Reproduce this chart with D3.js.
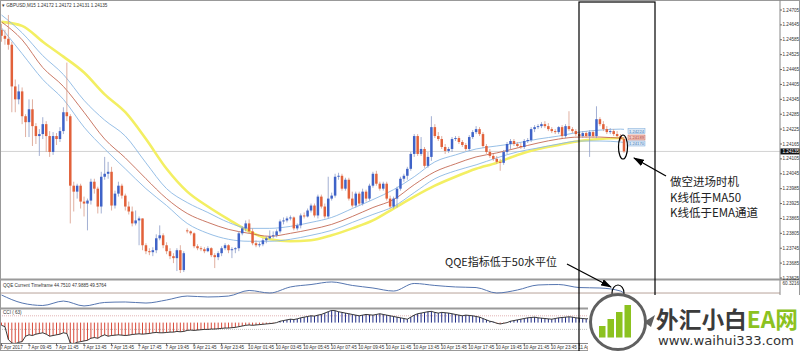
<!DOCTYPE html>
<html lang="zh">
<head>
<meta charset="UTF-8">
<title>GBPUSD,M15</title>
<style>
  body { margin: 0; background: #fff; }
  svg { display: block; font-family: "Liberation Sans", Arial, sans-serif; }
  .small { font-size: 4.6px; fill: #333; }
  .note { font-family: "Noto Sans CJK SC", sans-serif; fill: #222; }
</style>
</head>
<body>
<svg id="chart" width="800" height="351"></svg>
<script src="https://d3js.org/d3.v7.min.js"></script>
<script>
// ---- candles (GBPUSD M15) ----
const open = [1.24625,1.24601,1.24589,1.24565,1.24397,1.24345,1.24377,1.24277,1.24253,1.24305,
  1.24237,1.24197,1.24205,1.24245,1.24197,1.24133,1.24197,1.24185,1.24217,1.24293,
  1.24277,1.23997,1.23973,1.23997,1.23933,1.23925,1.23937,1.24013,1.23985,1.23913,
  1.24033,1.24045,1.24053,1.23917,1.23965,1.23997,1.23957,1.23913,1.23893,1.23845,
  1.23857,1.23865,1.23757,1.23733,1.23729,1.23737,1.23785,1.23797,1.23757,1.23733,
  1.23713,1.23705,1.23737,1.23657,1.23817,1.23813,1.23805,1.23753,1.23745,1.23741,
  1.23733,1.23745,1.23717,1.23709,1.23725,1.23745,1.23757,1.23737,1.23741,1.23745,
  1.23805,1.23825,1.23845,1.23813,1.23765,1.23757,1.23761,1.23777,1.23785,1.23793,
  1.23797,1.23813,1.23853,1.23857,1.23865,1.23869,1.23825,1.23837,1.23877,1.23873,
  1.23897,1.23917,1.23877,1.23953,1.23913,1.23873,1.23945,1.23957,1.24033,1.24037,
  1.23985,1.24021,1.23945,1.23917,1.23965,1.23925,1.23973,1.23945,1.23997,1.24045,
  1.24005,1.23985,1.24005,1.23945,1.23913,1.23945,1.23985,1.24025,1.24037,1.24065,
  1.24125,1.24197,1.24125,1.24145,1.24077,1.24113,1.24233,1.24197,1.24185,1.24153,
  1.24137,1.24145,1.24185,1.24189,1.24173,1.24161,1.24145,1.24193,1.24213,1.24225,
  1.24205,1.24157,1.24133,1.24117,1.24105,1.24093,1.24089,1.24133,1.24165,1.24177,
  1.24165,1.24157,1.24153,1.24177,1.24181,1.24225,1.24233,1.24237,1.24245,1.24237,
  1.24225,1.24217,1.24213,1.24233,1.24197,1.24237,1.24225,1.24217,1.24205,1.24197,
  1.24209,1.24197,1.24213,1.24197,1.24265,1.24245,1.24225,1.24213,1.24217,1.24205,
  1.24197,1.24185];
const close = [1.24601,1.24589,1.24565,1.24397,1.24345,1.24377,1.24277,1.24253,1.24305,1.24237,
  1.24197,1.24205,1.24245,1.24197,1.24133,1.24197,1.24185,1.24217,1.24293,1.24277,
  1.23997,1.23973,1.23997,1.23933,1.23925,1.23937,1.24013,1.23985,1.23913,1.24033,
  1.24045,1.24053,1.23917,1.23965,1.23997,1.23957,1.23913,1.23893,1.23845,1.23857,
  1.23865,1.23757,1.23733,1.23729,1.23737,1.23785,1.23797,1.23757,1.23733,1.23713,
  1.23705,1.23737,1.23657,1.23725,1.23813,1.23805,1.23753,1.23745,1.23741,1.23733,
  1.23745,1.23717,1.23709,1.23725,1.23745,1.23757,1.23737,1.23741,1.23745,1.23805,
  1.23825,1.23845,1.23813,1.23765,1.23757,1.23761,1.23777,1.23785,1.23793,1.23797,
  1.23813,1.23853,1.23857,1.23865,1.23869,1.23825,1.23837,1.23877,1.23873,1.23897,
  1.23917,1.23877,1.23953,1.23913,1.23873,1.23945,1.23957,1.24033,1.24037,1.23985,
  1.24021,1.23945,1.23917,1.23965,1.23925,1.23973,1.23945,1.23997,1.24045,1.24005,
  1.23985,1.24005,1.23945,1.23913,1.23945,1.23985,1.24025,1.24037,1.24065,1.24125,
  1.24197,1.24125,1.24145,1.24077,1.24113,1.24233,1.24197,1.24185,1.24153,1.24137,
  1.24145,1.24185,1.24189,1.24173,1.24161,1.24145,1.24193,1.24213,1.24225,1.24205,
  1.24157,1.24133,1.24117,1.24105,1.24093,1.24089,1.24133,1.24165,1.24177,1.24165,
  1.24157,1.24153,1.24177,1.24181,1.24225,1.24233,1.24237,1.24245,1.24237,1.24225,
  1.24217,1.24213,1.24233,1.24197,1.24237,1.24225,1.24217,1.24205,1.24197,1.24209,
  1.24197,1.24213,1.24197,1.24265,1.24245,1.24225,1.24213,1.24217,1.24205,1.24197,
  1.24185,1.24135];
const high = [1.24649,1.24625,1.24685,1.24577,1.24425,1.24405,1.24393,1.24285,1.24345,1.24345,
  1.24249,1.24225,1.24273,1.24257,1.24217,1.24213,1.24209,1.24233,1.24313,1.24493,
  1.24285,1.24013,1.24005,1.24005,1.23953,1.23945,1.24025,1.24025,1.23993,1.24053,
  1.24113,1.24093,1.24073,1.23977,1.24013,1.24005,1.23965,1.23933,1.23913,1.23897,
  1.23873,1.23865,1.23765,1.23745,1.23749,1.23801,1.23837,1.23805,1.23769,1.23745,
  1.23725,1.23745,1.23757,1.23733,1.23825,1.23817,1.23809,1.23761,1.23753,1.23749,
  1.23753,1.23749,1.23725,1.23733,1.23753,1.23765,1.23761,1.23749,1.23749,1.23813,
  1.23833,1.23857,1.23861,1.23825,1.23777,1.23769,1.23785,1.23793,1.23817,1.23813,
  1.23821,1.23861,1.23869,1.23873,1.23877,1.23873,1.23845,1.23885,1.23889,1.23905,
  1.23925,1.23925,1.23961,1.23961,1.23925,1.24033,1.23969,1.24045,1.24049,1.24045,
  1.24029,1.24029,1.23973,1.23973,1.23973,1.23985,1.23981,1.24005,1.24053,1.24057,
  1.24013,1.24013,1.24013,1.23957,1.23953,1.23993,1.24033,1.24045,1.24073,1.24133,
  1.24205,1.24205,1.24193,1.24153,1.24133,1.24277,1.24245,1.24213,1.24197,1.24165,
  1.24153,1.24193,1.24197,1.24197,1.24181,1.24169,1.24201,1.24221,1.24237,1.24233,
  1.24213,1.24165,1.24145,1.24125,1.24117,1.24105,1.24141,1.24173,1.24185,1.24185,
  1.24173,1.24169,1.24185,1.24189,1.24233,1.24241,1.24245,1.24253,1.24257,1.24249,
  1.24233,1.24225,1.24237,1.24241,1.24245,1.24297,1.24233,1.24225,1.24213,1.24217,
  1.24217,1.24221,1.24221,1.24317,1.24273,1.24257,1.24237,1.24229,1.24225,1.24217,
  1.24205,1.24193];
const low = [1.24577,1.24565,1.24545,1.24293,1.24293,1.24325,1.24245,1.24193,1.24193,1.24157,
  1.24165,1.24117,1.24185,1.24133,1.24113,1.24121,1.24161,1.24173,1.24205,1.24257,
  1.23845,1.23893,1.23945,1.23905,1.23873,1.23817,1.23921,1.23965,1.23885,1.23885,
  1.24021,1.24025,1.23897,1.23905,1.23953,1.23945,1.23897,1.23881,1.23833,1.23837,
  1.23757,1.23737,1.23721,1.23717,1.23713,1.23725,1.23777,1.23745,1.23721,1.23701,
  1.23685,1.23653,1.23645,1.23649,1.23805,1.23797,1.23745,1.23737,1.23733,1.23725,
  1.23729,1.23709,1.23665,1.23697,1.23713,1.23737,1.23725,1.23705,1.23725,1.23733,
  1.23797,1.23813,1.23805,1.23757,1.23749,1.23749,1.23753,1.23765,1.23781,1.23785,
  1.23789,1.23805,1.23841,1.23849,1.23857,1.23817,1.23817,1.23825,1.23865,1.23869,
  1.23889,1.23869,1.23865,1.23905,1.23865,1.23865,1.23937,1.23949,1.24021,1.23977,
  1.23977,1.23937,1.23909,1.23909,1.23917,1.23917,1.23933,1.23937,1.23989,1.23997,
  1.23977,1.23977,1.23937,1.23905,1.23905,1.23909,1.23977,1.24013,1.24021,1.24057,
  1.24113,1.24117,1.24117,1.24069,1.24069,1.24097,1.24189,1.24177,1.24145,1.24125,
  1.24129,1.24133,1.24177,1.24165,1.24153,1.24137,1.24137,1.24185,1.24205,1.24197,
  1.24149,1.24125,1.24109,1.24097,1.24085,1.24057,1.24081,1.24125,1.24145,1.24157,
  1.24149,1.24145,1.24145,1.24169,1.24173,1.24213,1.24225,1.24229,1.24229,1.24217,
  1.24209,1.24205,1.24205,1.24189,1.24189,1.24217,1.24209,1.24197,1.24189,1.24189,
  1.24189,1.24113,1.24189,1.24189,1.24237,1.24217,1.24205,1.24205,1.24197,1.24189,
  1.24177,1.24129];

// ---- moving averages, read every 6 bars ----
const maIdx = [0,6,12,18,24,30,36,42,48,54,60,66,72,78,84,90,96,102,108,114,120,126,132,138,144,150,156,162,168,174,180,181];
const ma50 = [1.24657,1.24641,1.24577,1.24517,1.24453,1.24365,1.24293,1.24185,1.24065,1.23973,1.23913,1.23861,1.23813,1.23781,1.23773,1.23777,
  1.23797,1.23825,1.23857,1.23905,1.23953,1.23997,1.24033,1.24065,1.24089,1.24121,1.24145,1.24161,1.24177,1.24185,1.24189,1.24185];
const emaHigh = [1.24685,1.24613,1.24521,1.24445,1.24341,1.24261,1.24197,1.24089,1.23985,1.23929,1.23889,1.23849,1.23825,1.23825,1.23833,1.23849,
  1.23869,1.23905,1.23941,1.23981,1.24033,1.24093,1.24121,1.24145,1.24157,1.24169,1.24185,1.24197,1.24213,1.24221,1.24225,1.24224];
const emaMid = [1.24657,1.24585,1.24473,1.24397,1.24293,1.24185,1.24109,1.24025,1.23945,1.23885,1.23849,1.23821,1.23805,1.23793,1.23805,1.23821,
  1.23841,1.23873,1.23909,1.23941,1.24001,1.24053,1.24085,1.24113,1.24129,1.24149,1.24169,1.24185,1.24193,1.24193,1.24189,1.24189];
const emaLow = [1.24633,1.24529,1.24425,1.24345,1.24233,1.24145,1.24065,1.23985,1.23917,1.23845,1.23805,1.23781,1.23773,1.23773,1.23781,1.23797,
  1.23817,1.23849,1.23881,1.23913,1.23969,1.24025,1.24057,1.24081,1.24109,1.24133,1.24149,1.24165,1.24177,1.24177,1.24173,1.24170];

// ---- QQE (same sample bars) ----
const qqe = [48.3,41.4,39.3,43.1,38.9,41.9,42.3,41.4,44.0,47.4,46.6,47.4,52.2,50.0,55.2,57.3,
  59.5,56.5,54.3,51.7,58.2,56.5,55.2,54.7,50.0,52.6,56.9,57.3,54.7,54.3,51.7,49.6];

// ---- CCI(63), one value per bar ----
const cci = [-40,-60,-250,-300,-310,-290,-280,
  -200,-180,-190,-170,-160,-150,-170,-200,-190,-180,-170,-150,
  -160,-300,-310,-290,-280,-270,-260,-230,-220,-230,-200,-180,
  -200,-190,-185,-180,-185,-190,-185,-175,-170,-165,-170,-165,-160,-150,-145,-150,-150,-145,-140,-140,-130,-135,
  -130,-115,-110,-115,-110,-105,-100,-100,-95,-95,-90,-85,-80,-80,-75,-70,-60,-50,
  -40,-35,-40,-35,-30,-25,-20,-15,-10,0,
  20,30,40,50,45,55,70,80,90,100,95,110,120,140,160,180,
  175,160,150,140,130,120,110,100,110,120,115,110,120,130,120,110,100,90,80,70,60,50,
  80,110,130,140,150,160,165,150,140,150,145,140,
  130,120,110,100,110,105,100,90,80,60,40,20,10,-10,-20,
  -10,0,20,30,40,50,60,70,75,80,70,65,60,55,50,
  60,70,75,80,85,80,70,65,60,55,60,65,70,80,75,65,55,45,35,25,10];

// ---- axis labels ----
const priceTicks = [1.24705,1.24645,1.24585,1.24525,1.24465,1.24405,1.24345,1.24285,1.24225,1.24165,
  1.24105,1.24045,1.23985,1.23925,1.23865,1.23805,1.23745,1.23685,1.23625];
const timeIdx = [0,8,16,24,32,40,48,56,64,72,80,88,96,104,112,120,128,136,144,152,160,168];
const timeLabels = ["7 Apr 2017","7 Apr 09:45","7 Apr 11:45","7 Apr 13:45","7 Apr 15:45","7 Apr 17:45",
  "7 Apr 19:45","9 Apr 21:45","9 Apr 23:45","10 Apr 01:45","10 Apr 03:45","10 Apr 05:45","10 Apr 07:45",
  "10 Apr 09:45","10 Apr 11:45","10 Apr 13:45","10 Apr 15:45","10 Apr 17:45","10 Apr 19:45",
  "10 Apr 21:45","10 Apr 23:45","11 Apr 01:45"];
const lastPrice = 1.24135;

const svg = d3.select("#chart");
const upCol = "#3f63c8", dnCol = "#e2613a";

const x = d3.scaleLinear().domain([0, close.length - 1]).range([1.5, 624]);
const y = d3.scaleLinear().domain([1.23625, 1.24705]).range([278, 10]);
const yQ = d3.scaleLinear().domain([38, 60.3216]).range([307, 281]);
const yC = d3.scaleLinear().domain([-300, 200]).range([343, 309]);

const defs = svg.append("defs");
defs.append("clipPath").attr("id", "cMain").append("rect").attr("x", 1).attr("y", 2).attr("width", 779).attr("height", 277);
defs.append("clipPath").attr("id", "cQ").append("rect").attr("x", 1).attr("y", 281).attr("width", 779).attr("height", 26);
defs.append("clipPath").attr("id", "cC").append("rect").attr("x", 1).attr("y", 310).attr("width", 779).attr("height", 33);
defs.append("marker").attr("id", "ah").attr("viewBox", "0 0 11 7").attr("refX", 10).attr("refY", 3.5)
  .attr("markerUnits", "userSpaceOnUse").attr("markerWidth", 11).attr("markerHeight", 7).attr("orient", "auto")
  .append("path").attr("d", "M0,0 L11,3.5 L0,7 z").attr("fill", "#000");

// frame
svg.append("rect").attr("x", 0.5).attr("y", 0.5).attr("width", 799).attr("height", 350).attr("fill", "#fff").attr("stroke", "#999");

const main = svg.append("g").attr("clip-path", "url(#cMain)");

// last price line
main.append("line").attr("x1", 0).attr("x2", 780).attr("y1", y(lastPrice)).attr("y2", y(lastPrice))
  .attr("stroke", "#c8c8c8").attr("stroke-width", 0.8);

const maLine = d3.line().x((d, k) => x(maIdx[k])).y(d => y(d)).curve(d3.curveMonotoneX);
main.append("path").attr("d", maLine(ma50)).attr("fill", "none").attr("stroke", "#f3ef63").attr("stroke-width", 2.6);
main.append("path").attr("d", maLine(emaHigh)).attr("fill", "none").attr("stroke", "#8bb8e3").attr("stroke-width", 0.9);
main.append("path").attr("d", maLine(emaLow)).attr("fill", "none").attr("stroke", "#8bb8e3").attr("stroke-width", 0.9);
main.append("path").attr("d", maLine(emaMid)).attr("fill", "none").attr("stroke", "#c46a55").attr("stroke-width", 0.9);

const bars = close.map((c, i) => ({ i, o: open[i], h: high[i], l: low[i], c }));
main.selectAll("line.wick").data(bars).join("line").attr("class", "wick")
  .attr("x1", d => x(d.i)).attr("x2", d => x(d.i))
  .attr("y1", d => y(d.h)).attr("y2", d => y(d.l))
  .attr("stroke", d => d.c >= d.o ? "#8c9cc8" : "#d89a88").attr("stroke-width", 0.8);
main.selectAll("rect.body").data(bars).join("rect").attr("class", "body")
  .attr("x", d => x(d.i) - 1.25).attr("width", 2.5)
  .attr("y", d => y(Math.max(d.o, d.c)))
  .attr("height", d => Math.max(0.9, Math.abs(y(d.o) - y(d.c))))
  .attr("fill", d => d.c >= d.o ? upCol : dnCol);

// price tags of the EMA channel
const tags = [
  { v: emaHigh[emaHigh.length - 1], fill: "#dbe9f7", stroke: "#7aa8d8", txt: "#4a78b0" },
  { v: emaMid[emaMid.length - 1], fill: "#f3c9c0", stroke: "#c65a48", txt: "#b04030" },
  { v: emaLow[emaLow.length - 1], fill: "#dbe9f7", stroke: "#7aa8d8", txt: "#4a78b0" }
];
const tagY = [131, 137.5, 143.5];
tags.forEach((t, k) => {
  main.append("rect").attr("x", 628).attr("y", tagY[k] - 2.5).attr("width", 17).attr("height", 5)
    .attr("fill", t.fill).attr("stroke", t.stroke).attr("stroke-width", 0.5);
  main.append("text").attr("x", 636.5).attr("y", tagY[k] + 1.5).attr("text-anchor", "middle")
    .attr("font-size", 4.2).attr("fill", t.txt).text(d3.format(".5f")(t.v));
});

// panes separators and borders
svg.append("line").attr("x1", 780).attr("x2", 780).attr("y1", 0).attr("y2", 343).attr("stroke", "#888");
[279.5, 308.5].forEach(v => svg.append("line").attr("x1", 0).attr("x2", 800).attr("y1", v).attr("y2", v)
  .attr("stroke", "#9a9a9a").attr("stroke-width", 2));
svg.append("line").attr("x1", 0).attr("x2", 780).attr("y1", 343.5).attr("y2", 343.5).attr("stroke", "#888");

// price axis
priceTicks.forEach(p => {
  svg.append("line").attr("x1", 780).attr("x2", 782).attr("y1", y(p)).attr("y2", y(p)).attr("stroke", "#666");
  svg.append("text").attr("class", "small").attr("x", 782.5).attr("y", y(p) + 1.6).text(d3.format(".5f")(p));
});
svg.append("rect").attr("x", 780.5).attr("y", y(lastPrice) - 3).attr("width", 19).attr("height", 6).attr("fill", "#111");
svg.append("text").attr("class", "small").attr("x", 782.5).attr("y", y(lastPrice) + 1.6)
  .style("fill", "#fff").text(d3.format(".5f")(lastPrice));
svg.append("text").attr("class", "small").attr("x", 782.5).attr("y", 284.5).text("60.3216");

// title
svg.append("text").attr("class", "small").attr("x", 2).attr("y", 7)
  .text("\u25BE GBPUSD,M15  1.24172 1.24172 1.24131 1.24135");

// QQE pane
const q = svg.append("g").attr("clip-path", "url(#cQ)");
q.append("line").attr("x1", 0).attr("x2", 780).attr("y1", yQ(50)).attr("y2", yQ(50)).attr("stroke", "#a58a80").attr("stroke-width", 0.8);
q.append("path").attr("d", d3.line().x((d, k) => x(maIdx[k])).y(d => yQ(d)).curve(d3.curveMonotoneX)(qqe))
  .attr("fill", "none").attr("stroke", "#5676b0").attr("stroke-width", 1);
svg.append("text").attr("class", "small").attr("x", 3).attr("y", 286.5)
  .text("QQE Current Timeframe 44.7510 47.9885 49.5764");

// CCI pane
const cg = svg.append("g").attr("clip-path", "url(#cC)");
[100, -100].forEach((lv, k) => cg.append("line").attr("x1", 0).attr("x2", 780)
  .attr("y1", yC(lv)).attr("y2", yC(lv)).attr("stroke", k ? "#b5b5b5" : "#dba0a0")
  .attr("stroke-width", 0.8).attr("stroke-dasharray", "1,1"));
cg.selectAll("line.cb").data(cci).join("line").attr("class", "cb")
  .attr("x1", (d, i) => x(i)).attr("x2", (d, i) => x(i))
  .attr("y1", yC(0)).attr("y2", d => yC(d))
  .attr("stroke", d => d < 0 ? "#d84a3a" : "#1e2b86").attr("stroke-width", 1);
cg.append("path").attr("d", d3.line().x((d, i) => x(i)).y(d => yC(d))(cci))
  .attr("fill", "none").attr("stroke", "#222").attr("stroke-width", 0.9);
svg.append("text").attr("class", "small").attr("x", 3).attr("y", 314).text("CCI ( 63)");

// time axis
timeIdx.forEach((ti, k) => {
  svg.append("line").attr("x1", x(ti)).attr("x2", x(ti)).attr("y1", 343).attr("y2", 345.5).attr("stroke", "#666");
  svg.append("text").attr("class", "small").attr("x", x(ti) - 1).attr("y", 349).text(timeLabels[k]);
});

// ---- annotations ----
const ann = svg.append("g");
ann.append("rect").attr("x", 579).attr("y", 2).attr("width", 76).attr("height", 360)
  .attr("fill", "none").attr("stroke", "#000").attr("stroke-width", 1.2);
const li = close.length - 1;
ann.append("ellipse").attr("cx", x(li) - 1).attr("cy", (y(high[li]) + y(low[li])) / 2 + 2)
  .attr("rx", 4.5).attr("ry", 12).attr("fill", "none").attr("stroke", "#000").attr("stroke-width", 1.2);
ann.append("line").attr("x1", 666).attr("y1", 176).attr("x2", 634).attr("y2", 158)
  .attr("stroke", "#000").attr("stroke-width", 1.3).attr("marker-end", "url(#ah)");
["做空进场时机", "K线低于MA50", "K线低于EMA通道"].forEach((t, k) => {
  ann.append("text").attr("class", "note").attr("x", 670).attr("y", 186 + k * 15.5).attr("font-size", 11.5).text(t);
});
ann.append("text").attr("class", "note").attr("x", 445).attr("y", 266).attr("font-size", 11).text("QQE指标低于50水平位");
ann.append("line").attr("x1", 567).attr("y1", 264).attr("x2", 611).attr("y2", 287)
  .attr("stroke", "#000").attr("stroke-width", 1.3).attr("marker-end", "url(#ah)");
ann.append("ellipse").attr("cx", 618).attr("cy", 293).attr("rx", 6).attr("ry", 8)
  .attr("fill", "none").attr("stroke", "#000").attr("stroke-width", 1.1);

// ---- watermark ----
const wm = svg.append("g");
wm.append("rect").attr("x", 588).attr("y", 295).attr("width", 212).attr("height", 56).attr("fill", "#fff");
wm.append("circle").attr("cx", 618).attr("cy", 322).attr("r", 27.5).attr("fill", "#fff")
  .attr("stroke", "#606060").attr("stroke-width", 3);
wm.append("path").attr("d", "M644,322 L655,315 L651,327 z").attr("fill", "#606060");
const barTops = [326, 319, 312, 305];
barTops.forEach((t, k) => wm.append("rect").attr("x", 599 + k * 8.5).attr("y", t)
  .attr("width", 6.5).attr("height", 337.5 - t).attr("fill", "#8cc21f"));
const wt = wm.append("text").attr("x", 656).attr("y", 328).attr("font-size", 23).attr("font-weight", 700)
  .attr("font-family", "'Noto Sans CJK SC', sans-serif").attr("textLength", 142).attr("lengthAdjust", "spacingAndGlyphs");
wt.append("tspan").attr("fill", "#3b3b3b").text("外汇小白");
wt.append("tspan").attr("fill", "#8cc21f").text("EA网");
wm.append("text").attr("x", 658).attr("y", 345).attr("font-size", 13).attr("fill", "#333")
  .attr("font-family", "'DejaVu Sans', sans-serif").attr("textLength", 136).attr("lengthAdjust", "spacingAndGlyphs")
  .text("www.waihui333.com");
</script>
</body>
</html>
